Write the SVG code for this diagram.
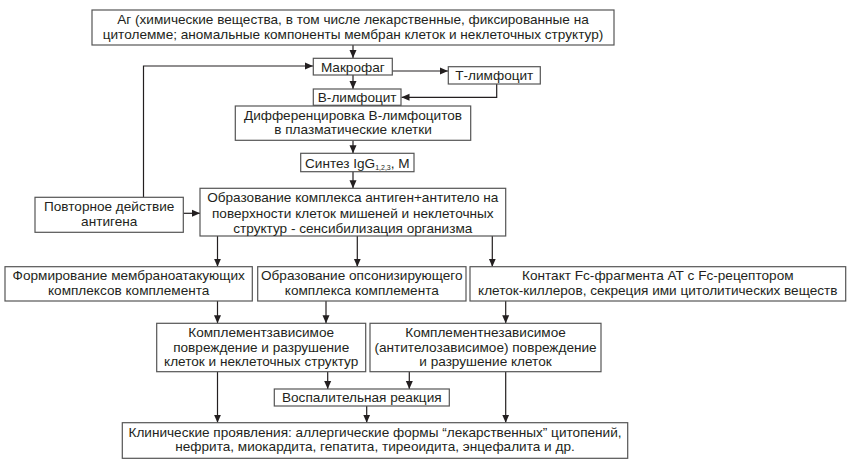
<svg xmlns="http://www.w3.org/2000/svg" width="854" height="467" viewBox="0 0 854 467">
<defs>
<marker id="ah" markerUnits="userSpaceOnUse" markerWidth="8" markerHeight="8" refX="8" refY="4" orient="auto">
<path d="M0,0.5 L8,4 L0,7.5 z" fill="#231f20"/>
</marker>
<style>
.box{fill:#fff;stroke:#555;stroke-width:1.2}
.t{font-family:"Liberation Sans",Arial,sans-serif;font-size:13.6px;fill:#231f20;text-anchor:middle}
.c{fill:none;stroke:#231f20;stroke-width:1.2;marker-end:url(#ah)}
.cn{fill:none;stroke:#231f20;stroke-width:1.2}
</style>
</defs>
<rect width="854" height="467" fill="#fff"/>
<g id="connectors">
<line class="c" x1="353" y1="45" x2="353" y2="58"/>
<polyline class="c" points="143.5,197 143.5,66 313,66"/>
<line class="c" x1="392" y1="71" x2="448" y2="71"/>
<polyline class="c" points="496.7,84 496.7,97.3 401.5,97.3"/>
<line class="c" x1="353" y1="75" x2="353" y2="89"/>
<line class="c" x1="353" y1="140.3" x2="353" y2="153.3"/>
<line class="c" x1="353" y1="171.7" x2="353" y2="188.3"/>
<line class="c" x1="183.3" y1="213.3" x2="200" y2="213.3"/>
<line class="c" x1="217.5" y1="236" x2="217.5" y2="266.7"/>
<line class="c" x1="357.3" y1="236" x2="357.3" y2="266.7"/>
<line class="c" x1="492.3" y1="236" x2="492.3" y2="266.7"/>
<line class="c" x1="217.5" y1="301" x2="217.5" y2="323.3"/>
<line class="c" x1="326" y1="301" x2="326" y2="323.3"/>
<line class="c" x1="505.7" y1="301" x2="505.7" y2="323.3"/>
<line class="c" x1="217.5" y1="371.7" x2="217.5" y2="422.7"/>
<line class="c" x1="327.7" y1="371.7" x2="327.7" y2="389"/>
<line class="c" x1="409.3" y1="371.7" x2="409.3" y2="389"/>
<line class="c" x1="366.7" y1="406" x2="366.7" y2="422.7"/>
<line class="c" x1="505.7" y1="371.7" x2="505.7" y2="422.7"/>
</g>
<g id="ag">
<rect class="box" x="92" y="10" width="522" height="35"/>
<text class="t" x="353" y="23.5">Аг (химические вещества, в том числе лекарственные, фиксированные на</text>
<text class="t" x="353" y="38.5">цитолемме; аномальные компоненты мембран клеток и неклеточных структур)</text>
</g>
<g id="macrophage">
<rect class="box" x="313.3" y="58.3" width="79" height="16.7"/>
<text class="t" x="352.8" y="71.5">Макрофаг</text>
</g>
<g id="t-lymph">
<rect class="box" x="448.3" y="66.7" width="92" height="17.3"/>
<text class="t" x="494.3" y="80.3">Т-лимфоцит</text>
</g>
<g id="b-lymph">
<rect class="box" x="313.3" y="89" width="87.7" height="16.3"/>
<text class="t" x="357.2" y="101.8">В-лимфоцит</text>
</g>
<g id="diff">
<rect class="box" x="235.3" y="106" width="235.4" height="34.3"/>
<text class="t" x="353" y="119.5">Дифференцировка В-лимфоцитов</text>
<text class="t" x="353" y="133.5">в плазматические клетки</text>
</g>
<g id="synth">
<rect class="box" x="300.7" y="153.3" width="113.3" height="18.4"/>
<text class="t" x="357.3" y="167.5">Синтез IgG<tspan font-size="7" dy="2">1,2,3</tspan><tspan dy="-2">, М</tspan></text>
</g>
<g id="complex">
<rect class="box" x="200" y="188.3" width="305.7" height="47.7"/>
<text class="t" x="352.8" y="202">Образование комплекса антиген+антитело на</text>
<text class="t" x="352.8" y="217.5">поверхности клеток мишеней и неклеточных</text>
<text class="t" x="352.8" y="233">структур - сенсибилизация организма</text>
</g>
<g id="repeat">
<rect class="box" x="35" y="197.3" width="148.3" height="35"/>
<text class="t" x="109.2" y="210.5">Повторное действие</text>
<text class="t" x="109.2" y="225.5">антигена</text>
</g>
<g id="mac">
<rect class="box" x="5" y="266.7" width="247.3" height="34.3"/>
<text class="t" x="128.7" y="280.3">Формирование мембраноатакующих</text>
<text class="t" x="128.7" y="294.5">комплексов комплемента</text>
</g>
<g id="opson">
<rect class="box" x="257.7" y="266.7" width="208.3" height="34.3"/>
<text class="t" x="361.8" y="280.3">Образование опсонизирующего</text>
<text class="t" x="361.8" y="294.5">комплекса комплемента</text>
</g>
<g id="fc">
<rect class="box" x="470" y="266.7" width="375.7" height="34.3"/>
<text class="t" x="657.8" y="280.3">Контакт Fc-фрагмента АТ с Fc-рецептором</text>
<text class="t" x="657.8" y="294.5">клеток-киллеров, секреция ими цитолитических веществ</text>
</g>
<g id="compl-dep">
<rect class="box" x="156.7" y="323.3" width="209" height="48.4"/>
<text class="t" x="261.2" y="337">Комплементзависимое</text>
<text class="t" x="261.2" y="351.5">повреждение и разрушение</text>
<text class="t" x="261.2" y="366">клеток и неклеточных структур</text>
</g>
<g id="compl-indep">
<rect class="box" x="370" y="323.3" width="231" height="48.4"/>
<text class="t" x="485.5" y="337">Комплементнезависимое</text>
<text class="t" x="485.5" y="351.5">(антителозависимое) повреждение</text>
<text class="t" x="485.5" y="366">и разрушение клеток</text>
</g>
<g id="inflam">
<rect class="box" x="274.3" y="389" width="175" height="17"/>
<text class="t" x="361.8" y="401.8">Воспалительная реакция</text>
</g>
<g id="clinic">
<rect class="box" x="122.3" y="422.7" width="505.4" height="35.6"/>
<text class="t" x="375" y="436.5">Клинические проявления: аллергические формы “лекарственных” цитопений,</text>
<text class="t" x="375" y="451">нефрита, миокардита, гепатита, тиреоидита, энцефалита и др.</text>
</g>
</svg>
